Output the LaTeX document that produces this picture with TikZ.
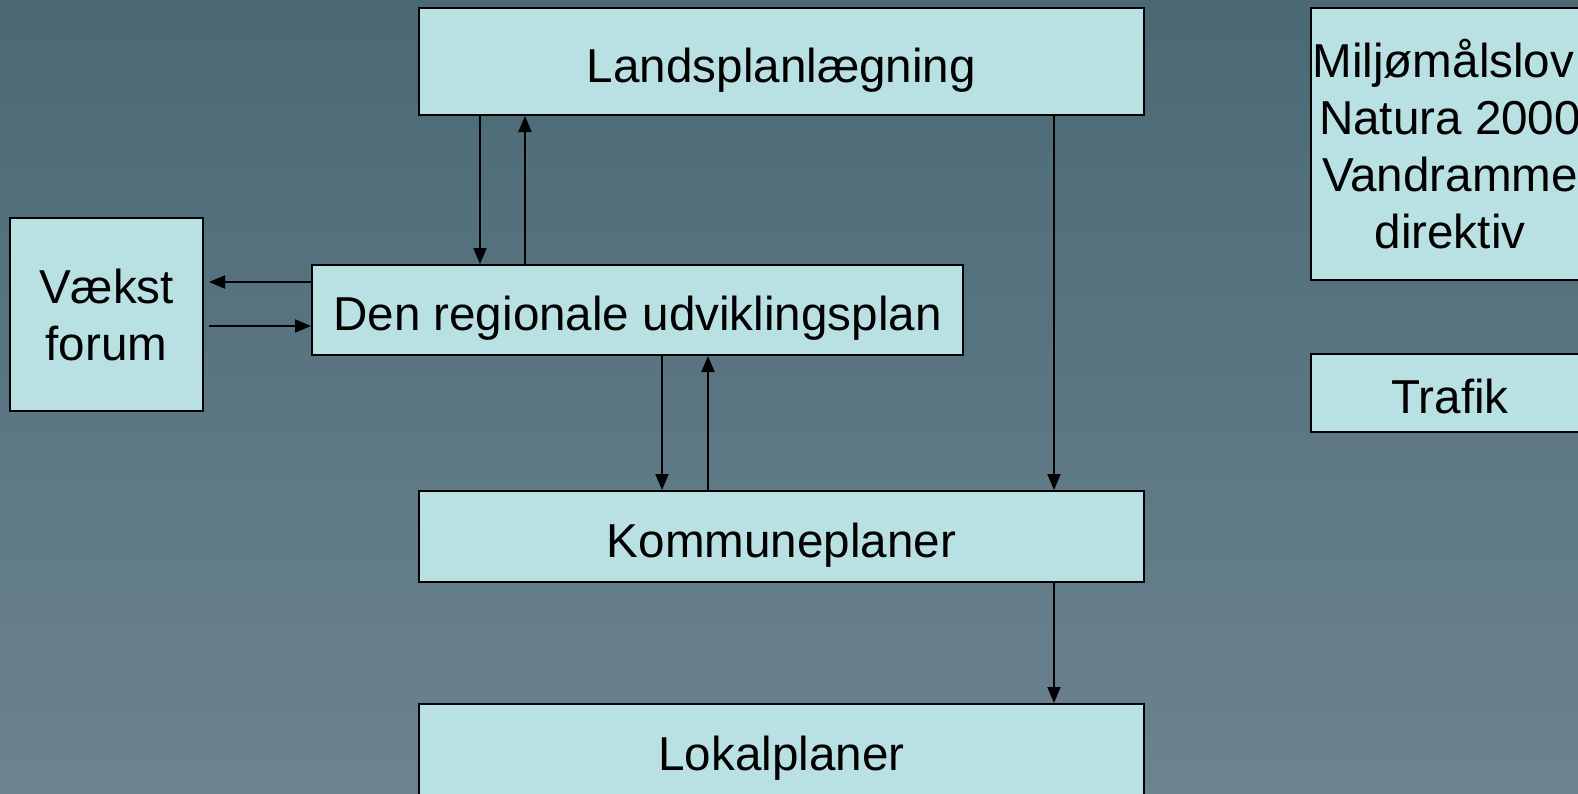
\documentclass[tikz,border=0pt]{standalone}
\usepackage{fontspec}
\setmainfont{Liberation Sans}
\usetikzlibrary{arrows.meta}
\definecolor{bgtop}{RGB}{74,105,117}
\definecolor{bgbot}{RGB}{108,131,144}
\definecolor{boxfill}{RGB}{185,224,227}
\begin{document}
\begin{tikzpicture}[x=1pt,y=-1pt,
  box/.style={draw=black, line width=2pt, fill=boxfill, inner sep=0pt, align=center,
    font=\fontsize{47.6}{57}\selectfont},
  oneline/.style={text height=41pt, text depth=0pt},
  arr/.style={draw=black, line width=2pt, -{Triangle[width=13pt,length=16pt]}}]
\useasboundingbox (0,0) rectangle (1578,793);
\clip (0,0) rectangle (1578,793);
\shade[top color=bgtop, bottom color=bgbot] (0,0) rectangle (1578,793);
\node[box, oneline, minimum width=725pt, minimum height=107pt] (land) at (781.5,61.5) {Landsplanlægning};
\node[box, oneline, minimum width=651pt, minimum height=90pt] (reg) at (637.5,310) {Den regionale udviklingsplan};
\node[box, minimum width=193pt, minimum height=193pt] (vaek) at (106.5,314.5) {\raisebox{-4pt}{Vækst}\\\raisebox{-4pt}{forum}};
\node[box, oneline, minimum width=725pt, minimum height=91pt] (komm) at (781.5,536.5) {Kommuneplaner};
\node[box, oneline, minimum width=725pt, minimum height=91pt] (lok) at (781.5,749.5) {Lokalplaner};
\node[box, minimum width=278pt, minimum height=272pt] (milj) at (1450,144) {Miljømålslov:\\Natura 2000\\Vandramme\\direktiv};
\node[box, oneline, minimum width=278pt, minimum height=78pt] (traf) at (1450,393) {Trafik};
\coordinate (a1) at (480,0);
\coordinate (a2) at (525,0);
\coordinate (a3) at (662,0);
\coordinate (a4) at (708,0);
\coordinate (a5) at (1054,0);
\coordinate (h1) at (0,282);
\coordinate (h2) at (0,326);
\coordinate (vt) at ([xshift=5pt]vaek.east);
\draw[arr] (land.south -| a1) -- (reg.north -| a1);
\draw[arr] (reg.north -| a2) -- (land.south -| a2);
\draw[arr] (reg.south -| a3) -- (komm.north -| a3);
\draw[arr] (komm.north -| a4) -- (reg.south -| a4);
\draw[arr] (land.south -| a5) -- (komm.north -| a5);
\draw[arr] (komm.south -| a5) -- (lok.north -| a5);
\draw[arr] (reg.west |- h1) -- (vt |- h1);
\draw[arr] (vt |- h2) -- (reg.west |- h2);
\end{tikzpicture}
\end{document}
